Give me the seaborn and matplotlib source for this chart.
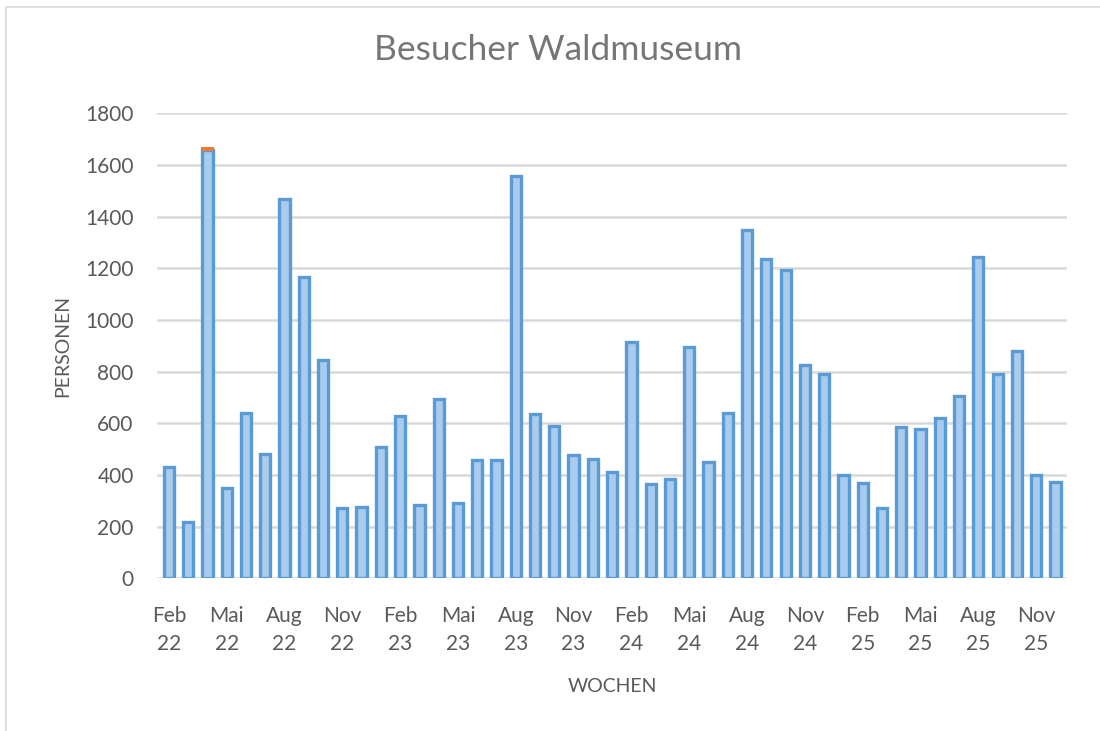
#%% Bibliotheken
import pandas as pd
import seaborn as sns
import matplotlib.pyplot as plt
from matplotlib.patches import Rectangle

#%% Daten (monatlich, Feb 22 bis Dez 25)
monate = ['Feb', 'Mär', 'Apr', 'Mai', 'Jun', 'Jul', 'Aug', 'Sep', 'Okt', 'Nov', 'Dez', 'Jan']

besucher = [430, 216, 1656, 349, 639, 481, 1468, 1165, 846, 271, 275,
            508, 629, 284, 694, 291, 456, 456, 1559, 637, 590, 478,
            461, 410, 913, 366, 386, 897, 450, 639, 1349, 1237, 1192,
            824, 792, 398, 368, 272, 584, 579, 620, 704, 1243, 792,
            881, 398, 371]

# zweite Reihe (nur ein kleiner Rest oben auf Mai 22 sichtbar)
zusatz = [0, 0, 10] + [0] * 44

# Kategorien: "Feb 22", "Mär 22", ... (Jahr wechselt nach Dezember)
kategorien = []
jahr = 22
for i in range(len(besucher)):
    m = monate[i % 12]
    if m == 'Jan':
        jahr += 1
    kategorien.append(f'{m}\n{jahr}')

tick_pos = list(range(0, len(kategorien), 3))
tick_labels = [kategorien[i] for i in tick_pos]

df = pd.DataFrame({'monat': kategorien, 'personen': besucher, 'zusatz': zusatz})
df['pos'] = range(len(df))

#%% Diagramm
sns.set_theme(style='white')
plt.rcParams['font.family'] = ['Lato', 'DejaVu Sans']
grau = '#595959'

fig = plt.figure(figsize=(11, 7.31), dpi=100)
ax = fig.add_axes([0.143, 0.209, 0.827, 0.636])

sns.barplot(data=df, x='monat', y='personen', order=kategorien, ax=ax,
            color='#A9CBEE', edgecolor='#5B9BD5', linewidth=2.4,
            width=0.53, saturation=1)

# orangefarbener Rest der zweiten Reihe (nur wo vorhanden)
rest = df[df['zusatz'] > 0]
ax.bar(rest['pos'], rest['zusatz'], bottom=rest['personen'],
       width=0.53, color='#ED7D31', edgecolor='#ED7D31', linewidth=1.5)

ax.set_ylim(0, 1800)
ax.set_xlim(-0.6, len(kategorien) - 0.4)
ax.set_yticks(range(0, 1801, 200))
ax.set_xticks(tick_pos)
ax.set_xticklabels(tick_labels, linespacing=1.5)
ax.tick_params(axis='both', labelsize=15, labelcolor=grau, length=0)
ax.tick_params(axis='y', pad=17)
ax.tick_params(axis='x', pad=20)

ax.grid(axis='y', color='#D9D9D9', linewidth=1.8)
ax.set_axisbelow(True)
for s in ax.spines.values():
    s.set_visible(False)

ax.set_xlabel('WOCHEN', fontsize=14, color=grau, labelpad=17)
ax.set_ylabel('PERSONEN', fontsize=14, color=grau, labelpad=10)

fig.text(0.507, 0.932, 'Besucher Waldmuseum', ha='center', va='center',
         fontsize=25.5, color='#767676')

# Rahmen des Diagrammbereichs
fig.patches.append(Rectangle((0.005, -0.02), 1.1, 1.01, transform=fig.transFigure,
                             fill=False, edgecolor='#D9D9D9', linewidth=1.2))

plt.savefig('out.png', dpi=100)
